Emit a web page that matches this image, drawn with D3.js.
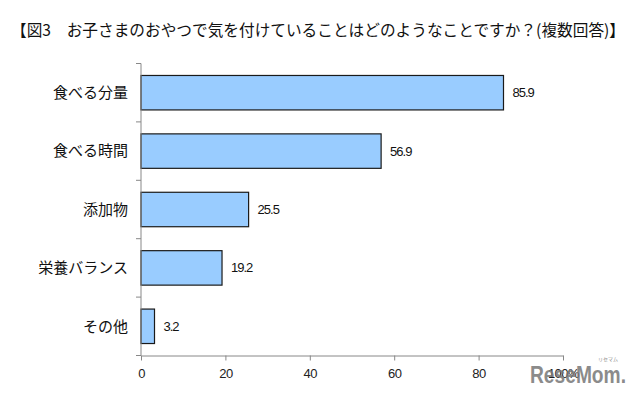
<!DOCTYPE html>
<html>
<head>
<meta charset="utf-8">
<script src="https://cdn.jsdelivr.net/npm/d3@7"></script>
<style>
  body { margin: 0; background: #fff; }
  svg { display: block; }
</style>
</head>
<body>
<div id="chart"></div>
<script>
const title = "【図3　お子さまのおやつで気を付けていることはどのようなことですか？(複数回答)】"
const categories = ["食べる分量", "食べる時間", "添加物", "栄養バランス", "その他"]
const values = [85.9, 56.9, 25.5, 19.2, 3.2]
const xTicks = [0, 20, 40, 60, 80, 100]

const width = 640
const height = 397
const jp = "'Noto Sans CJK JP', 'Noto Sans', sans-serif"
const latin = "'Liberation Sans', Arial, sans-serif"

const svg = d3.select("#chart").append("svg")
    .attr("width", width)
    .attr("height", height)

svg.append("rect")
    .attr("width", width)
    .attr("height", height)
    .attr("fill", "#fff")

// title
svg.append("text")
    .attr("x", 11)
    .attr("y", 36)
    .attr("font-family", jp)
    .attr("font-size", 16)
    .attr("textLength", 614)
    .attr("lengthAdjust", "spacingAndGlyphs")
    .attr("fill", "#111")
    .text(title)

const x = d3.scaleLinear()
    .domain([0, 100])
    .range([141, 563])

const y = d3.scaleBand()
    .domain(categories)
    .range([63.5, 355.5])
    .paddingInner(0.41)
    .paddingOuter(0.205)

const data = categories.map((c, i) => ({ name: c, value: values[i] }))

// bars
svg.selectAll(".bar")
    .data(data)
    .enter().append("rect")
    .attr("class", "bar")
    .attr("x", x(0))
    .attr("y", d => y(d.name))
    .attr("width", d => x(d.value) - x(0))
    .attr("height", y.bandwidth())
    .attr("fill", "#99ccff")
    .attr("stroke", "#1a1a1a")
    .attr("stroke-width", 1.2)

// value labels
svg.selectAll(".val")
    .data(data)
    .enter().append("text")
    .attr("class", "val")
    .attr("x", d => x(d.value) + 9)
    .attr("y", d => y(d.name) + y.bandwidth() / 2)
    .attr("dy", "0.35em")
    .attr("font-family", latin)
    .attr("font-size", 13)
    .attr("letter-spacing", -1)
    .attr("fill", "#111")
    .text(d => d.value.toFixed(1))

// x axis
const xAxis = svg.append("g")
    .attr("transform", "translate(0,355.5)")
    .call(d3.axisBottom(x).tickValues(xTicks).tickSize(5).tickSizeOuter(0)
        .tickFormat(d => d === 100 ? "100%" : d))
xAxis.select(".domain").attr("stroke", "#888")
xAxis.selectAll(".tick line").attr("stroke", "#888")
xAxis.selectAll(".tick text")
    .attr("font-family", latin)
    .attr("font-size", 13)
    .attr("letter-spacing", -0.5)
    .attr("fill", "#222")
    .attr("dy", "1.1em")

// y axis with ticks at band boundaries
const yAxis = svg.append("g").attr("transform", "translate(141,0)")
yAxis.append("line")
    .attr("y1", 63.5).attr("y2", 355.5)
    .attr("stroke", "#888")
const bounds = categories.map(c => y(c) - y.step() * y.paddingInner() / 2)
bounds.push(355.5)
yAxis.selectAll(".ytick")
    .data(bounds)
    .enter().append("line")
    .attr("x1", -5).attr("x2", 0)
    .attr("y1", d => d).attr("y2", d => d)
    .attr("stroke", "#888")

// category labels
svg.selectAll(".cat")
    .data(categories)
    .enter().append("text")
    .attr("class", "cat")
    .attr("x", 128)
    .attr("y", d => y(d) + y.bandwidth() / 2)
    .attr("dy", "0.35em")
    .attr("text-anchor", "end")
    .attr("font-family", jp)
    .attr("font-size", 15)
    .attr("fill", "#111")
    .text(d => d)

// watermark
const mark = svg.append("g").attr("opacity", 0.85)
mark.append("text")
    .attr("x", 530)
    .attr("y", 383)
    .attr("font-family", latin)
    .attr("font-weight", "bold")
    .attr("font-size", 24)
    .attr("textLength", 96)
    .attr("lengthAdjust", "spacingAndGlyphs")
    .attr("fill", "#777")
    .text("ReseMom.")
mark.append("text")
    .attr("x", 618)
    .attr("y", 361)
    .attr("text-anchor", "end")
    .attr("font-family", jp)
    .attr("font-size", 5)
    .attr("fill", "#777")
    .text("リセマム")
</script>
</body>
</html>
